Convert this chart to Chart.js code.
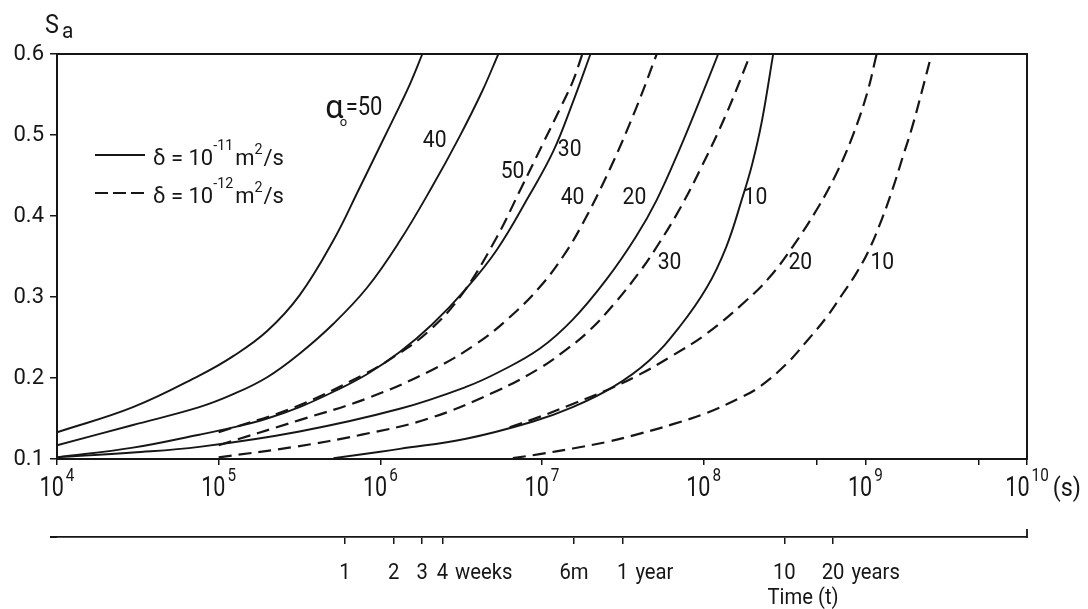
<!DOCTYPE html>
<html>
<head>
<meta charset="utf-8">
<script src="https://cdn.jsdelivr.net/npm/chart.js@4.4.1/dist/chart.umd.min.js"></script>
<style>
  html, body { margin: 0; padding: 0; background: #fff; }
  #wrap { width: 1088px; height: 609px; }
</style>
</head>
<body>
<div id="wrap"><canvas id="saChart" width="1088" height="609"></canvas></div>
<script>
// time is kept as log10(t in seconds), Sa as read off the figure
// solid curves: delta = 1e-11 m2/s
const s50Exp = [4.00, 4.47, 4.88, 5.09, 5.30, 5.50, 5.71, 5.87, 6.00, 6.12, 6.19, 6.26];
const s50Sa  = [0.133, 0.164, 0.203, 0.227, 0.258, 0.302, 0.370, 0.434, 0.487, 0.536, 0.566, 0.600];
const s40Exp = [4.00, 4.47, 4.88, 5.09, 5.30, 5.50, 5.71, 5.92, 6.12, 6.32, 6.49, 6.63, 6.73];
const s40Sa  = [0.117, 0.142, 0.164, 0.180, 0.201, 0.230, 0.267, 0.312, 0.369, 0.436, 0.498, 0.554, 0.600];
const s30Exp = [4.00, 4.47, 4.88, 5.09, 5.30, 5.50, 5.71, 5.92, 6.12, 6.32, 6.53, 6.72, 6.92, 7.07, 7.19, 7.30];
const s30Sa  = [0.102, 0.114, 0.130, 0.139, 0.150, 0.164, 0.183, 0.205, 0.232, 0.266, 0.310, 0.358, 0.425, 0.480, 0.540, 0.600];
const s20Exp = [4.00, 4.47, 4.88, 5.50, 6.12, 6.53, 6.74, 6.985, 7.19, 7.40, 7.58, 7.71, 7.85, 7.97, 8.09];
const s20Sa  = [0.102, 0.108, 0.115, 0.134, 0.162, 0.189, 0.208, 0.236, 0.272, 0.322, 0.374, 0.420, 0.482, 0.540, 0.600];
const s10Exp = [5.71, 6.00, 6.12, 6.53, 6.94, 7.19, 7.44, 7.66, 7.85, 8.02, 8.14, 8.24, 8.30, 8.36, 8.43];
const s10Sa  = [0.101, 0.109, 0.1125, 0.125, 0.146, 0.164, 0.189, 0.221, 0.263, 0.312, 0.362, 0.423, 0.464, 0.517, 0.600];

// dashed curves: delta = 1e-12 m2/s
const d50Exp = [5.00, 5.47, 5.885, 6.09, 6.30, 6.50, 6.71, 6.87, 7.00, 7.12, 7.19, 7.25];
const d50Sa  = [0.133, 0.164, 0.203, 0.227, 0.258, 0.302, 0.370, 0.434, 0.487, 0.536, 0.566, 0.600];
const d40Exp = [5.00, 5.50, 5.92, 6.32, 6.60, 6.80, 6.985, 7.13, 7.25, 7.42, 7.58, 7.71];
const d40Sa  = [0.117, 0.148, 0.175, 0.210, 0.243, 0.275, 0.312, 0.350, 0.390, 0.458, 0.532, 0.600];
const d30Exp = [5.00, 5.47, 5.885, 6.30, 6.71, 6.985, 7.15, 7.29, 7.44, 7.60, 7.71, 7.85, 7.99, 8.14, 8.29];
const d30Sa  = [0.102, 0.115, 0.130, 0.150, 0.183, 0.212, 0.235, 0.258, 0.290, 0.330, 0.362, 0.408, 0.462, 0.526, 0.600];
const d20Exp = [6.80, 6.985, 7.19, 7.40, 7.60, 7.81, 8.02, 8.26, 8.41, 8.55, 8.70, 8.82, 8.92, 9.01, 9.07];
const d20Sa  = [0.139, 0.152, 0.168, 0.185, 0.204, 0.228, 0.255, 0.295, 0.325, 0.362, 0.408, 0.452, 0.498, 0.551, 0.600];
const d10Exp = [6.82, 6.985, 7.19, 7.40, 7.60, 7.81, 8.02, 8.22, 8.345, 8.51, 8.64, 8.76, 8.86, 8.94, 9.02, 9.10, 9.17, 9.23, 9.29, 9.35, 9.41];
const d10Sa  = [0.101, 0.106, 0.113, 0.121, 0.131, 0.143, 0.157, 0.175, 0.189, 0.217, 0.246, 0.275, 0.304, 0.328, 0.357, 0.395, 0.434, 0.472, 0.510, 0.554, 0.600];

// axes
const decadeTicks = [1e4, 1e5, 1e6, 1e7, 1e8, 1e9, 1e10];
const minorTicks = [5e8, 5e9];
const yTicks = [0.1, 0.2, 0.3, 0.4, 0.5, 0.6];
// lower time axis (seconds): 1-4 weeks, 6 months, 1, 10, 20 years
const timeTickSeconds = [604800, 1209600, 1814400, 2419200, 15778800, 31557600, 315576000, 631152000];
const timeTickLabels = ['1', '2', '3', '4 weeks', '6m', '1 year', '10', '20 years'];

// curve labels, placed in data coordinates
const curveLabels = [
  { text: '40', e: 6.336, sa: 0.495 },
  { text: '50', e: 6.818, sa: 0.457 },
  { text: '30', e: 7.171, sa: 0.484 },
  { text: '40', e: 7.189, sa: 0.425 },
  { text: '20', e: 7.572, sa: 0.425 },
  { text: '10', e: 8.320, sa: 0.425 },
  { text: '30', e: 7.789, sa: 0.344 },
  { text: '20', e: 8.598, sa: 0.344 },
  { text: '10', e: 9.105, sa: 0.344 }
];
const alphaLabel = { e: 5.66, sa: 0.521 };

const INK = '#161616';
const FONT = 'Roboto, "DejaVu Sans", sans-serif';

function serie(label, exps, vals, dashed) {
  return {
    label: label,
    data: exps.map((e, i) => ({ x: Math.pow(10, e), y: vals[i] })),
    borderColor: INK,
    borderWidth: dashed ? 2.2 : 1.9,
    borderDash: dashed ? [13, 7] : [],
    pointRadius: 0,
    fill: false,
    tension: 0.4
  };
}

function put(ctx, str, x, y, size, align, sx) {
  sx = sx || 1;
  ctx.save();
  ctx.font = size + 'px ' + FONT;
  ctx.fillStyle = INK;
  ctx.textBaseline = 'alphabetic';
  ctx.textAlign = 'left';
  const w = ctx.measureText(str).width * sx;
  let x0 = x;
  if (align === 'center') x0 = x - w / 2;
  if (align === 'right') x0 = x - w;
  ctx.translate(x0, y);
  ctx.scale(sx, 1);
  ctx.fillText(str, 0, 0);
  ctx.restore();
  return w;
}

function width(ctx, str, size, sx) {
  ctx.save();
  ctx.font = size + 'px ' + FONT;
  const w = ctx.measureText(str).width * (sx || 1);
  ctx.restore();
  return w;
}

// frame, hand drawn texts and the lower time axis labels
const decor = {
  id: 'decor',
  afterDraw(chart) {
    const ctx = chart.ctx;
    const ca = chart.chartArea;
    const xs = chart.scales.x;
    const ys = chart.scales.y;
    const x2 = chart.scales.x2;

    ctx.save();
    ctx.strokeStyle = INK;
    ctx.lineWidth = 2;
    ctx.strokeRect(ca.left, ca.top, ca.right - ca.left, ca.bottom - ca.top);

    // lower axis line starts a bit left of the plot, closes with an upward tick at 10^10
    const xr = x2.getPixelForValue(1e10);
    ctx.lineWidth = 1.8;
    ctx.beginPath();
    ctx.moveTo(50, x2.top);
    ctx.lineTo(ca.left, x2.top);
    ctx.moveTo(xr, x2.top + 1);
    ctx.lineTo(xr, x2.top - 8);
    ctx.stroke();

    // legend
    ctx.lineWidth = 1.9;
    ctx.setLineDash([]);
    ctx.beginPath();
    ctx.moveTo(95, 155);
    ctx.lineTo(145, 155);
    ctx.stroke();
    ctx.lineWidth = 2.2;
    ctx.setLineDash([13, 5]);
    ctx.beginPath();
    ctx.moveTo(95, 193);
    ctx.lineTo(145, 193);
    ctx.stroke();
    ctx.setLineDash([]);
    ctx.restore();

    [['-11', 165], ['-12', 203]].forEach(function (row) {
      let x = 153;
      const y = row[1];
      x += put(ctx, 'δ = 10', x, y, 22, 'left', 1);
      x += put(ctx, row[0], x, y - 15, 15, 'left', 0.95) + 2;
      x += put(ctx, 'm', x, y, 22, 'left', 1);
      x += put(ctx, '2', x, y - 11, 15, 'left', 0.95);
      put(ctx, '/s', x + 1, y, 22, 'left', 1);
    });

    // y axis title
    put(ctx, 'S', 45, 33, 26, 'left', 0.9);
    put(ctx, 'a', 62, 38, 22, 'left', 0.95);

    // decade labels 10^n
    decadeTicks.forEach(function (v) {
      const px = xs.getPixelForValue(v);
      const n = String(Math.round(Math.log10(v)));
      const w1 = width(ctx, '10', 27, 0.8);
      const w2 = width(ctx, n, 18, 0.85);
      const x0 = px - (w1 + 2 + w2) / 2;
      put(ctx, '10', x0, 496, 27, 'left', 0.8);
      put(ctx, n, x0 + w1 + 2, 481, 18, 'left', 0.85);
      if (v === 1e10) put(ctx, '(s)', x0 + w1 + w2 + 6, 496, 26, 'left', 0.9);
    });

    // lower time axis labels: the number sits under its tick
    timeTickSeconds.forEach(function (v, i) {
      const px = x2.getPixelForValue(v);
      const parts = timeTickLabels[i].split(' ');
      const w0 = width(ctx, parts[0], 22, 0.92);
      put(ctx, parts[0], px - w0 / 2, 579, 22, 'left', 0.92);
      if (parts.length > 1) put(ctx, parts.slice(1).join(' '), px + w0 / 2 + 7, 579, 22, 'left', 0.92);
    });
    put(ctx, 'Time (t)', 803, 604, 22, 'center', 0.92);

    // curve labels
    curveLabels.forEach(function (l) {
      const px = xs.getPixelForValue(Math.pow(10, l.e));
      const py = ys.getPixelForValue(l.sa);
      put(ctx, l.text, px, py + 8, 24, 'center', 0.88);
    });
    const ax = xs.getPixelForValue(Math.pow(10, alphaLabel.e));
    const ay = ys.getPixelForValue(alphaLabel.sa);
    const wa = put(ctx, 'α', ax, ay, 34, 'left', 0.95);
    put(ctx, 'o', ax + wa - 4, ay + 8, 13, 'left', 1);
    put(ctx, '=50', ax + wa + 2, ay - 3, 25, 'left', 0.88);
  }
};

const ctx = document.getElementById('saChart').getContext('2d');

new Chart(ctx, {
  type: 'line',
  data: {
    datasets: [
      serie('α0 = 50, δ = 1e-11', s50Exp, s50Sa, false),
      serie('α0 = 40, δ = 1e-11', s40Exp, s40Sa, false),
      serie('α0 = 30, δ = 1e-11', s30Exp, s30Sa, false),
      serie('α0 = 20, δ = 1e-11', s20Exp, s20Sa, false),
      serie('α0 = 10, δ = 1e-11', s10Exp, s10Sa, false),
      serie('α0 = 50, δ = 1e-12', d50Exp, d50Sa, true),
      serie('α0 = 40, δ = 1e-12', d40Exp, d40Sa, true),
      serie('α0 = 30, δ = 1e-12', d30Exp, d30Sa, true),
      serie('α0 = 20, δ = 1e-12', d20Exp, d20Sa, true),
      serie('α0 = 10, δ = 1e-12', d10Exp, d10Sa, true)
    ]
  },
  options: {
    responsive: false,
    animation: false,
    layout: { padding: { top: 54, right: 61, bottom: 0, left: 0 } },
    plugins: {
      legend: { display: false },
      tooltip: { enabled: false }
    },
    scales: {
      x: {
        type: 'logarithmic',
        position: 'bottom',
        weight: 0,
        min: 1e4,
        max: 1e10,
        afterBuildTicks: function (s) {
          s.ticks = decadeTicks.concat(minorTicks).sort((a, b) => a - b).map(v => ({ value: v }));
        },
        afterFit: function (s) { s.height = 78; },
        ticks: { display: false },
        grid: { drawOnChartArea: false, drawTicks: true, tickLength: 6, color: INK, lineWidth: 1.5 },
        border: { display: true, color: INK, width: 2 }
      },
      x2: {
        type: 'logarithmic',
        position: 'bottom',
        weight: 1,
        min: 1e4,
        max: 1e10,
        afterBuildTicks: function (s) {
          s.ticks = timeTickSeconds.map(v => ({ value: v }));
        },
        afterFit: function (s) { s.height = 72; },
        ticks: { display: false },
        grid: { drawOnChartArea: false, drawTicks: true, tickLength: 7, color: INK, lineWidth: 1.5 },
        border: { display: true, color: INK, width: 1.8 }
      },
      y: {
        min: 0.1,
        max: 0.6,
        afterBuildTicks: function (s) {
          s.ticks = yTicks.map(v => ({ value: v }));
        },
        afterFit: function (s) { s.width = 57; },
        ticks: {
          color: INK,
          padding: 6,
          font: { family: FONT, size: 22 },
          callback: v => Number(v).toFixed(1)
        },
        grid: { drawOnChartArea: false, drawTicks: true, tickLength: 7, color: INK, lineWidth: 1.5 },
        border: { display: true, color: INK, width: 2 }
      }
    }
  },
  plugins: [decor]
});
</script>
</body>
</html>
